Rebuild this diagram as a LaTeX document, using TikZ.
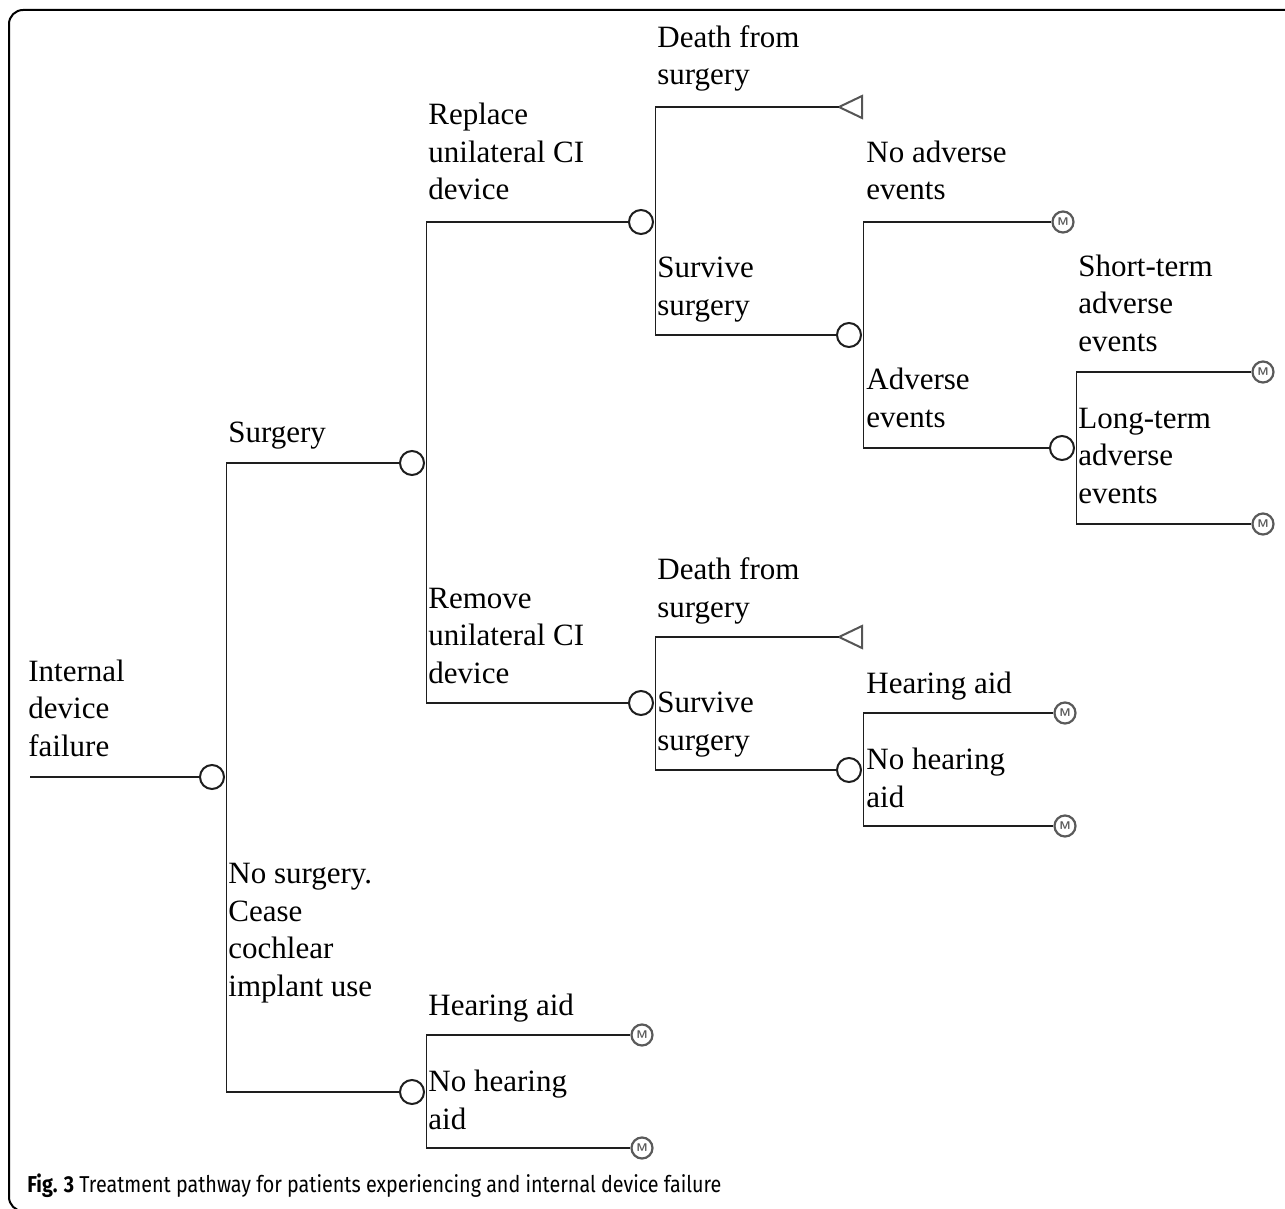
\documentclass[tikz,border=0pt]{standalone}
\usepackage{fontspec}
\usepackage{graphicx}
\setmainfont{Liberation Serif}
\newfontfamily\capfont{Fira Sans}
\definecolor{linec}{HTML}{1E1E1E}
\definecolor{mgray}{HTML}{5A5A5A}
\definecolor{tgray}{HTML}{555555}
\tikzset{
  lab/.style={anchor=base west, inner sep=0pt, align=left, text=black,
    font=\fontsize{15.5pt}{18.75pt}\selectfont},
  chance/.style={circle, draw=linec, line width=1pt, minimum size=12pt, inner sep=0pt},
  mnode/.style={circle, draw=mgray, line width=1.1pt, minimum size=10.5pt, inner sep=0pt,
    text=mgray, font=\sffamily\bfseries\fontsize{5.6pt}{6pt}\selectfont},
  branch/.style={draw=linec, line width=0.85pt},
  termtri/.style={draw=tgray, line width=1pt, line join=miter},
  frame/.style={draw=black, line width=1pt, rounded corners=7pt}
}
\begin{document}
\begin{tikzpicture}[x=0.5pt, y=-0.5pt]
\useasboundingbox (0,0) rectangle (1285,1209);
\clip (0,0) rectangle (1285,1209);
\draw[frame] (1320,10) -- (9,10) -- (9,1211) -- (80,1211);

% chance nodes
\node[chance] (c1) at (212,777) {};
\node[chance] (c2) at (412,463) {};
\node[chance] (c3) at (641,222) {};
\node[chance] (c4) at (849,335) {};
\node[chance] (c5) at (1062,448) {};
\node[chance] (c6) at (641,703) {};
\node[chance] (c7) at (849,770) {};
\node[chance] (c8) at (412,1092) {};

% terminal (Markov) nodes
\node[mnode] (m1) at (1063,222) {M};
\node[mnode] (m2) at (1263,372) {M};
\node[mnode] (m3) at (1263,524) {M};
\node[mnode] (m4) at (1065,713) {M};
\node[mnode] (m5) at (1065,826) {M};
\node[mnode] (m6) at (642,1035) {M};
\node[mnode] (m7) at (642,1148) {M};

% death terminals (triangles)
\coordinate (t1) at (839,107);
\coordinate (t2) at (839,637);
\draw[termtri] (t1) -- ++(23,-11) -- ++(0,22) -- cycle;
\draw[termtri] (t2) -- ++(23,-11) -- ++(0,22) -- cycle;

% root
\coordinate (root) at (30,777);
\draw[branch] (root) -- (c1.west);

% branches
\draw[branch] (c1.east) ++(1.5,0) |- (c2.west);
\draw[branch] (c1.east) ++(1.5,0) |- (c8.west);
\draw[branch] (c2.east) ++(1.5,0) |- (c3.west);
\draw[branch] (c2.east) ++(1.5,0) |- (c6.west);
\draw[branch] (c3.east) ++(1.5,0) |- (t1);
\draw[branch] (c3.east) ++(1.5,0) |- (c4.west);
\draw[branch] (c4.east) ++(1.5,0) |- (m1.west);
\draw[branch] (c4.east) ++(1.5,0) |- (c5.west);
\draw[branch] (c5.east) ++(1.5,0) |- (m2.west);
\draw[branch] (c5.east) ++(1.5,0) |- (m3.west);
\draw[branch] (c6.east) ++(1.5,0) |- (t2);
\draw[branch] (c6.east) ++(1.5,0) |- (c7.west);
\draw[branch] (c7.east) ++(1.5,0) |- (m4.west);
\draw[branch] (c7.east) ++(1.5,0) |- (m5.west);
\draw[branch] (c8.east) ++(1.5,0) |- (m6.west);
\draw[branch] (c8.east) ++(1.5,0) |- (m7.west);

% labels (anchored at the baseline of the last line)
\node[lab] (l1) at (28,756) {Internal\\device\\failure};
\node[lab] (l2) at (228,442) {Surgery};
\node[lab] (l3) at (228,996) {No surgery.\\Cease\\cochlear\\implant use};
\node[lab] (l4) at (428,200) {Replace\\unilateral CI\\device};
\node[lab] (l5) at (428,683) {Remove\\unilateral CI\\device};
\node[lab] (l6) at (428,1015) {Hearing aid};
\node[lab] (l7) at (428,1129) {No hearing\\aid};
\node[lab] (l8) at (657,85) {Death from\\surgery};
\node[lab] (l9) at (657,315) {Survive\\surgery};
\node[lab] (l10) at (657,617) {Death from\\surgery};
\node[lab] (l11) at (657,750) {Survive\\surgery};
\node[lab] (l12) at (866,200) {No adverse\\events};
\node[lab] (l13) at (866,427) {Adverse\\events};
\node[lab] (l14) at (1078,351) {Short-term\\adverse\\events};
\node[lab] (l15) at (1078,503) {Long-term\\adverse\\events};
\node[lab] (l16) at (866,693) {Hearing aid};
\node[lab] (l17) at (866,807) {No hearing\\aid};

% caption
\node[anchor=base west, inner sep=0pt, text=black] (cap) at (27,1192)
  {\resizebox{347pt}{\height}{\capfont\fontsize{11.5pt}{13pt}\selectfont\textbf{Fig. 3} Treatment pathway for patients experiencing and internal device failure}};
\end{tikzpicture}
\end{document}
